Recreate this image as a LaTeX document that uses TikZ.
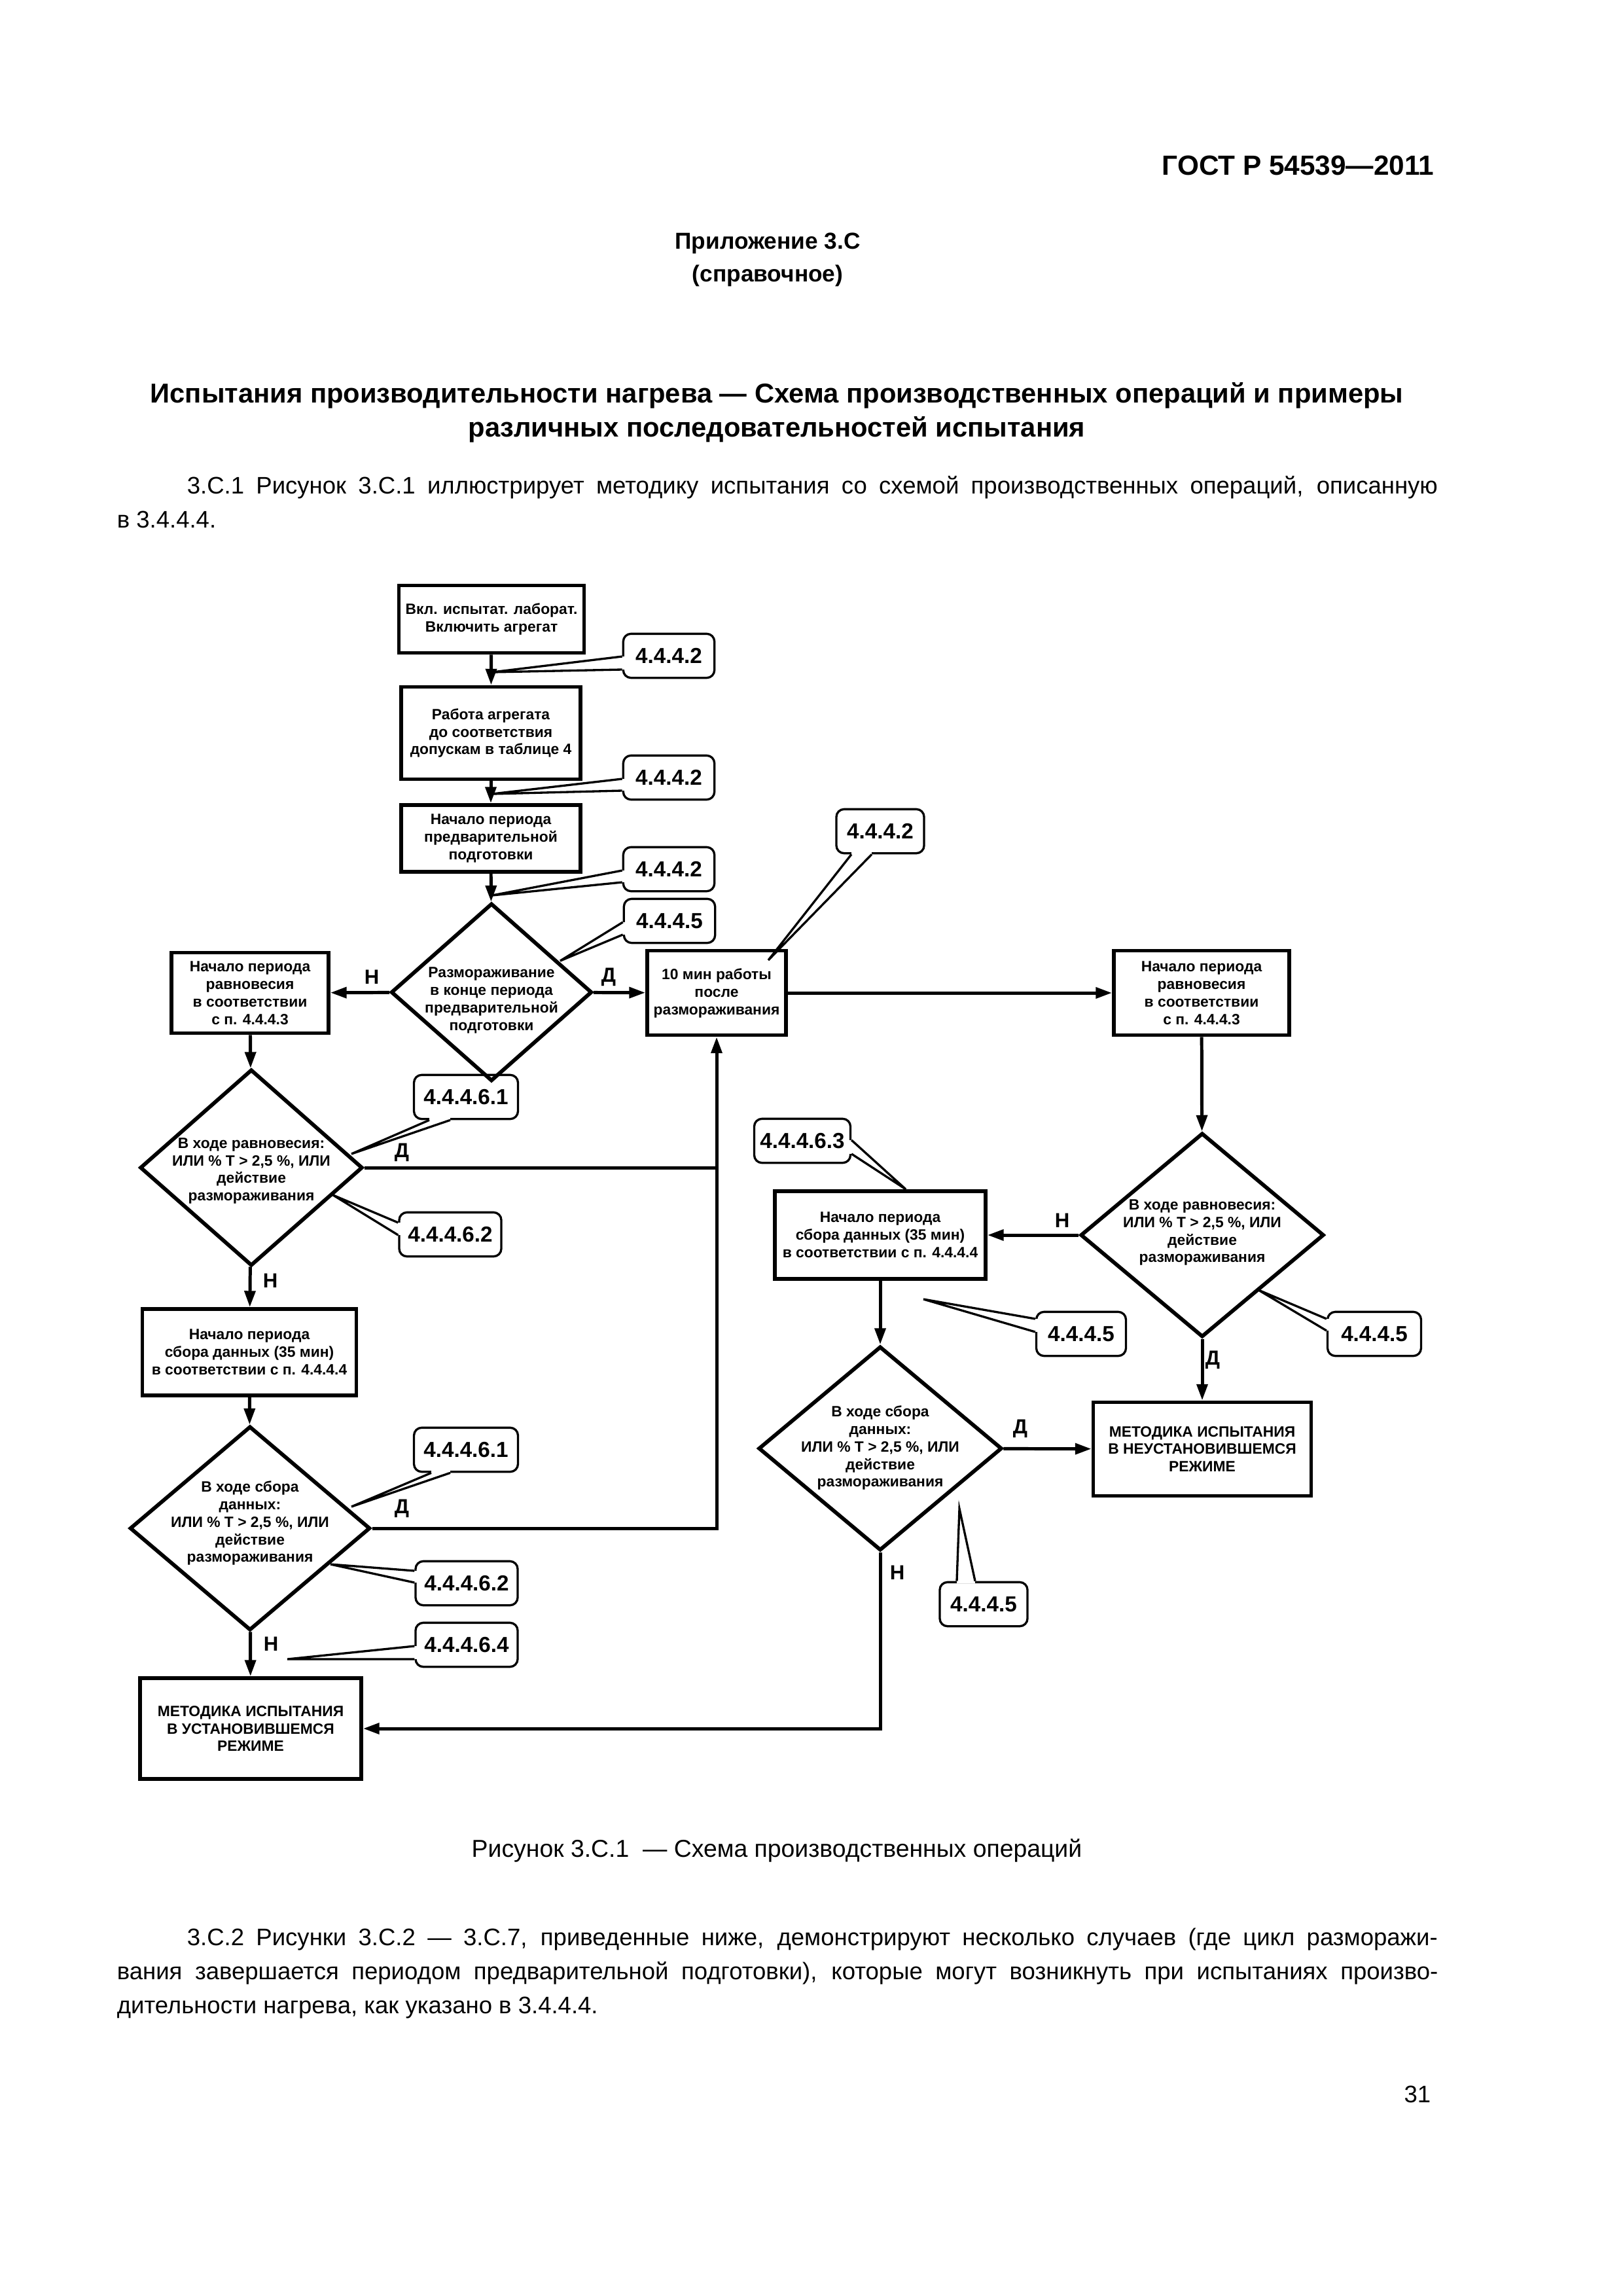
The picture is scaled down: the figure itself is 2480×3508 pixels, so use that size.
\documentclass[tikz,border=0pt]{standalone}
\usepackage{fontspec}
\setmainfont{Liberation Sans}
\usepackage{tikz}
\usetikzlibrary{shapes.geometric,arrows.meta,calc}

\newcommand{\pointer}[3]{%
  \draw[white,line width=1.8pt] #1 -- #2;
  \draw[line width=0.8pt,line join=miter] #1 -- #3 -- #2;}

\begin{document}
\begin{tikzpicture}[x=0.08467mm,y=-0.08467mm]
\tikzset{box/.style={draw,line width=1.4pt,inner sep=0pt,align=center,font=\fontsize{5.5}{6.5}\selectfont\bfseries}}
\tikzset{dia/.style={draw,diamond,line width=1.4pt,inner sep=0pt}}
\tikzset{dtext/.style={inner sep=0pt,align=center,font=\fontsize{5.5}{6.5}\selectfont\bfseries}}
\tikzset{ref/.style={draw,rounded corners=1mm,line width=0.8pt,inner sep=0pt,minimum width=11.8mm,minimum height=5.7mm,font=\fontsize{8}{9}\selectfont\bfseries}}
\tikzset{yn/.style={inner sep=0pt,font=\fontsize{7.5}{9}\selectfont\bfseries}}
\tikzset{flow/.style={line width=1.2pt,-{Triangle[length=2.1mm,width=1.4mm]}}}
\tikzset{line/.style={line width=1.2pt}}
\tikzset{txt/.style={inner sep=0pt,font=\fontsize{8.8}{12.4}\selectfont}}
\tikzset{head/.style={inner sep=0pt,font=\fontsize{10.2}{12}\selectfont\bfseries}}
\tikzset{title/.style={inner sep=0pt,font=\fontsize{10.05}{12}\selectfont\bfseries}}

\useasboundingbox (0,0) rectangle (2480,3508);

\node[head,anchor=base east] (gost) at (2192,267) {ГОСТ Р 54539—2011};
\node[head,anchor=base,font=\fontsize{8.5}{12}\selectfont\bfseries] (app1) at (1173,380) {Приложение 3.С};
\node[head,anchor=base,font=\fontsize{8.5}{12}\selectfont\bfseries] (app2) at (1173,430) {(справочное)};
\node[title,anchor=base] (t1) at (1187,615) {Испытания производительности нагрева — Схема производственных операций и примеры};
\node[title,anchor=base] (t2) at (1187,667) {различных последовательностей испытания};
\node[txt,anchor=base west] (p1) at (285,754) {\makebox[161.8mm][s]{3.С.1 Рисунок 3.С.1 иллюстрирует методику испытания со схемой производственных операций, описанную}};
\node[txt,anchor=base west] (p2) at (178,806) {в 3.4.4.4.};

\node[box,minimum width=23.96mm,minimum height=8.72mm] (a) at (751,946) {Вкл. испытат. лаборат.\\Включить агрегат};
\node[box,minimum width=23.2mm,minimum height=11.94mm] (b) at (750,1120) {Работа агрегата\\до соответствия\\допускам в таблице 4};
\node[box,minimum width=23.2mm,minimum height=8.64mm] (c) at (750,1281) {Начало периода\\предварительной\\подготовки};
\node[dia,minimum width=26mm,minimum height=23mm] (d1) at (751,1516) {};
\node[dtext] (d1t) at (751,1528) {Размораживание\\в конце периода\\предварительной\\подготовки};
\node[box,minimum width=20.32mm,minimum height=10.41mm] (e) at (382,1517) {Начало периода\\равновесия\\в соответствии\\с п. 4.4.4.3};
\node[box,minimum width=17.95mm,minimum height=10.92mm] (f) at (1095,1517) {10 мин работы\\после\\размораживания};
\node[box,minimum width=22.69mm,minimum height=10.92mm] (g) at (1836,1517) {Начало периода\\равновесия\\в соответствии\\с п. 4.4.4.3};
\node[dia,minimum width=28.8mm,minimum height=25.4mm] (d2) at (384,1784) {};
\node[dtext] (d2t) at (384,1789) {В ходе равновесия:\\ИЛИ \% Т > 2,5 \%, ИЛИ\\действие\\размораживания};
\node[box,minimum width=27.69mm,minimum height=11.18mm] (h) at (381,2066) {Начало периода\\сбора данных (35 мин)\\в соответствии с п. 4.4.4.4};
\node[dia,minimum width=31.1mm,minimum height=26.4mm] (d3) at (382,2335) {};
\node[dtext] (d3t) at (382,2327) {В ходе сбора\\данных:\\ИЛИ \% Т > 2,5 \%, ИЛИ\\действие\\размораживания};
\node[box,minimum width=28.62mm,minimum height=13.04mm] (i) at (383,2641) {МЕТОДИКА ИСПЫТАНИЯ\\В УСТАНОВИВШЕМСЯ\\РЕЖИМЕ};
\node[dia,minimum width=31.5mm,minimum height=26.4mm] (d4) at (1837,1887) {};
\node[dtext] (d4t) at (1837,1883) {В ходе равновесия:\\ИЛИ \% Т > 2,5 \%, ИЛИ\\действие\\размораживания};
\node[box,minimum width=27.26mm,minimum height=11.35mm] (j) at (1345,1887) {Начало периода\\сбора данных (35 мин)\\в соответствии с п. 4.4.4.4};
\node[dia,minimum width=31.5mm,minimum height=26.4mm] (d5) at (1345,2213) {};
\node[dtext] (d5t) at (1345,2212) {В ходе сбора\\данных:\\ИЛИ \% Т > 2,5 \%, ИЛИ\\действие\\размораживания};
\node[box,minimum width=28.19mm,minimum height=12.11mm] (k) at (1837,2214) {МЕТОДИКА ИСПЫТАНИЯ\\В НЕУСТАНОВИВШЕМСЯ\\РЕЖИМЕ};

\draw[flow] (a) -- (b);
\draw[flow] (b) -- (c);
\draw[flow] (c) -- (d1);
\draw[flow] (d1) -- (e);
\draw[flow] (d1) -- (f);
\draw[flow] (e) -- (d2);
\draw[flow] (f) -- (g);
\draw[flow] (g) -- (d4);
\draw[line] (d2.east) -- (d2.east -| f.south);
\draw[flow] (d3.east) -| (f.south);
\draw[flow] (d2) -- (h);
\draw[flow] (h) -- (d3);
\draw[flow] (d3) -- (i);
\draw[flow] (d4) -- (j);
\draw[flow] (d4) -- (k);
\draw[flow] (j) -- (d5);
\draw[flow] (d5) -- (k);
\draw[flow] (d5.south) |- (i.east);

\node[yn] (n1) at (568,1493) {Н};
\node[yn] (y1) at (930,1493) {Д};
\node[yn] (y2) at (614,1761) {Д};
\node[yn] (n2) at (413,1957) {Н};
\node[yn] (y3) at (614,2305) {Д};
\node[yn] (n3) at (414,2512) {Н};
\node[yn] (n4) at (1623,1865) {Н};
\node[yn] (y4) at (1853,2078) {Д};
\node[yn] (y5) at (1559,2183) {Д};
\node[yn] (n5) at (1371,2403) {Н};

\node[ref] (r1) at (1022,1002) {4.4.4.2};
\coordinate (r1p) at (752,1027);
\pointer{($(r1.west)+(0,1)$)}{($(r1.west)+(0,21)$)}{(r1p)}
\node[ref] (r2) at (1022,1188) {4.4.4.2};
\coordinate (r2p) at (752,1213);
\pointer{($(r2.west)+(0,2)$)}{($(r2.west)+(0,20)$)}{(r2p)}
\node[ref] (r3) at (1022,1328) {4.4.4.2};
\coordinate (r3p) at (752,1368);
\pointer{($(r3.west)+(0,2)$)}{($(r3.west)+(0,20)$)}{(r3p)}
\node[ref] (r4) at (1023,1407) {4.4.4.5};
\coordinate (r4p) at (856,1468);
\pointer{($(r4.west)+(0,2)$)}{($(r4.west)+(0,21)$)}{(r4p)}
\node[ref,minimum width=11.35mm] (r5) at (1345,1270) {4.4.4.2};
\coordinate (r5p) at (1174,1467);
\pointer{($(r5.south)+(-44,0)$)}{($(r5.south)+(-13,0)$)}{(r5p)}
\node[ref,minimum width=13.46mm] (r6) at (712,1676) {4.4.4.6.1};
\coordinate (r6p) at (537,1763);
\pointer{($(r6.south)+(-56,0)$)}{($(r6.south)+(-24,0)$)}{(r6p)}
\node[ref,minimum width=13.21mm] (r7) at (688,1886) {4.4.4.6.2};
\coordinate (r7p) at (509,1826);
\pointer{($(r7.west)+(0,-18)$)}{($(r7.west)+(0,1)$)}{(r7p)}
\node[ref,minimum width=13.46mm] (r8) at (712,2215) {4.4.4.6.1};
\coordinate (r8p) at (537,2302);
\pointer{($(r8.south)+(-53,0)$)}{($(r8.south)+(-24,0)$)}{(r8p)}
\node[ref,minimum width=13.21mm] (r9) at (713,2419) {4.4.4.6.2};
\coordinate (r9p) at (505,2390);
\pointer{($(r9.west)+(0,-19)$)}{($(r9.west)+(0,-1)$)}{(r9p)}
\node[ref,minimum width=13.21mm] (r10) at (713,2513) {4.4.4.6.4};
\coordinate (r10p) at (439,2535);
\pointer{($(r10.west)+(0,2)$)}{($(r10.west)+(0,22)$)}{(r10p)}
\node[ref,minimum width=12.45mm] (r11) at (1226,1743) {4.4.4.6.3};
\coordinate (r11p) at (1384,1817);
\pointer{($(r11.east)+(0,-1)$)}{($(r11.east)+(0,20)$)}{(r11p)}
\node[ref,minimum width=11.6mm] (r12) at (1652,2038) {4.4.4.5};
\coordinate (r12p) at (1411,1985);
\pointer{($(r12.west)+(0,-23)$)}{($(r12.west)+(0,-3)$)}{(r12p)}
\node[ref,minimum width=12.1mm] (r13) at (2100,2038) {4.4.4.5};
\coordinate (r13p) at (1923,1971);
\pointer{($(r13.west)+(0,-23)$)}{($(r13.west)+(0,-5)$)}{(r13p)}
\node[ref,minimum width=11.35mm] (r14) at (1503,2451) {4.4.4.5};
\coordinate (r14p) at (1466,2305);
\pointer{($(r14.north)+(-41,0)$)}{($(r14.north)+(-13,0)$)}{(r14p)}

\node[txt,anchor=base,font=\fontsize{9}{12.4}\selectfont] (cap) at (1187,2837) {Рисунок 3.С.1~ — Схема производственных операций};
\node[txt,anchor=base west] (q1) at (285,2972) {\makebox[161.8mm][s]{3.С.2 Рисунки 3.С.2 — 3.С.7, приведенные ниже, демонстрируют несколько случаев (где цикл разморажи-}};
\node[txt,anchor=base west] (q2) at (178,3024) {\makebox[170.9mm][s]{вания завершается периодом предварительной подготовки), которые могут возникнуть при испытаниях произво-}};
\node[txt,anchor=base west] (q3) at (178,3076) {дительности нагрева, как указано в 3.4.4.4.};
\node[txt,anchor=base east] (pg) at (2187,3212) {31};
\end{tikzpicture}
\end{document}
